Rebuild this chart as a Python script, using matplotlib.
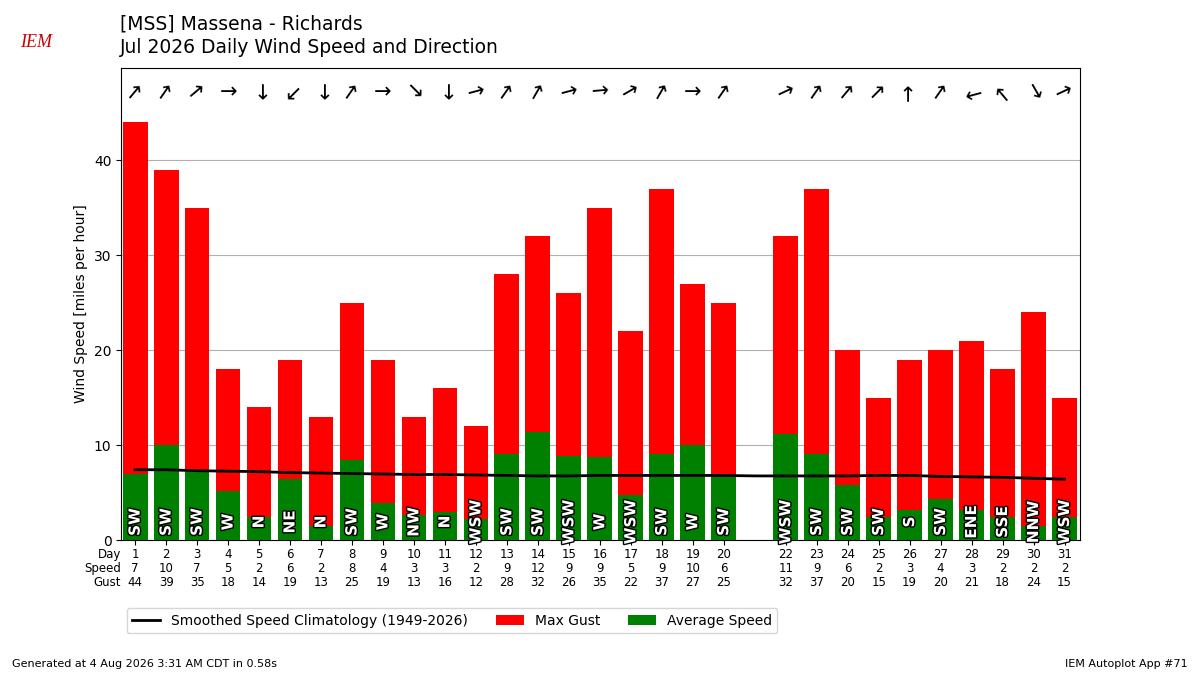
import matplotlib
matplotlib.use("Agg")
import matplotlib.pyplot as plt
import matplotlib.patheffects as pe
import numpy as np

days = [1,2,3,4,5,6,7,8,9,10,11,12,13,14,15,16,17,18,19,20,22,23,24,25,26,27,28,29,30,31]
avg_speed = [7.0,10.0,7.3,5.2,2.4,6.4,1.5,8.4,3.9,2.6,3.0,2.2,9.1,11.4,8.9,8.7,4.7,9.1,10.0,6.6,
             11.2,9.1,5.8,2.4,3.2,4.3,3.2,2.4,1.5,2.4]
speed_lbl = [7,10,7,5,2,6,2,8,4,3,3,2,9,12,9,9,5,9,10,6,11,9,6,2,3,4,3,2,2,2]
gust = [44,39,35,18,14,19,13,25,19,13,16,12,28,32,26,35,22,37,27,25,32,37,20,15,19,20,21,18,24,15]
dir_lbl = ["SW","SW","SW","W","N","NE","N","SW","W","NW","N","WSW","SW","SW","WSW","W","WSW","SW","W","SW",
           "WSW","SW","SW","SW","S","SW","ENE","SSE","NNW","WSW"]
dir_deg = [220,215,230,270,0,45,0,215,270,315,0,255,215,210,255,265,240,210,270,215,
           245,215,220,225,180,215,75,140,330,245]
clim_days = [1,2,3,4,5,6,7,8,9,10,11,12,13,14,15,16,17,18,19,20,21,22,23,24,25,26,27,28,29,30,31]
clim = [7.4,7.4,7.3,7.25,7.2,7.1,7.05,7.0,6.95,6.9,6.9,6.85,6.8,6.75,6.75,6.8,6.8,6.8,6.8,6.8,6.75,
        6.75,6.75,6.75,6.8,6.8,6.7,6.65,6.6,6.5,6.4]

fig = plt.figure(figsize=(12,6.75), dpi=100)
ax = fig.add_axes([0.101,0.2,0.799,0.699])
ax.plot(clim_days, clim, color="black", lw=2, label="Smoothed Speed Climatology (1949-2026)", zorder=4)
ax.bar(days, gust, width=0.8, color="red", label="Max Gust", zorder=2)
ax.bar(days, avg_speed, width=0.8, color="green", label="Average Speed", zorder=3)
ax.set_xlim(0.55,31.5)
ax.set_ylim(0,49.7)
ax.set_yticks([0,10,20,30,40])
ax.yaxis.grid(True, color="#b0b0b0", zorder=0)
ax.set_axisbelow(True)
ax.set_ylabel("Wind Speed [miles per hour]")
ax.set_xticks(days)
ax.set_xticklabels([])
for d, lab, deg in zip(days, dir_lbl, dir_deg):
    ax.text(d, 1.9, lab, rotation=90, ha="center", va="center", color="white", fontsize=11,
            fontweight="bold", zorder=5, clip_on=False,
            path_effects=[pe.withStroke(linewidth=2, foreground="black")])
    ang = -90 - deg
    ax.text(d, 47.2, "\u2192", rotation=ang, rotation_mode="anchor", ha="center", va="center",
            fontsize=15, zorder=5)
tr = ax.get_xaxis_transform()
for lab, yy in [("Day",-0.031),("Speed",-0.061),("Gust",-0.091)]:
    ax.text(0.0, yy, lab, transform=ax.transAxes, ha="right", va="center", fontsize=8.5)
for d, s, g in zip(days, speed_lbl, gust):
    ax.text(d, -0.031, str(d), transform=tr, ha="center", va="center", fontsize=8.5)
    ax.text(d, -0.061, str(s), transform=tr, ha="center", va="center", fontsize=8.5)
    ax.text(d, -0.091, str(g), transform=tr, ha="center", va="center", fontsize=8.5)
ax.legend(loc="upper left", bbox_to_anchor=(-0.0015,-0.13), ncol=3, fontsize=10)
fig.text(0.1,0.965,"[MSS] Massena - Richards",fontsize=13.5,va="center")
fig.text(0.1,0.929,"Jul 2026 Daily Wind Speed and Direction",fontsize=13.5,va="center")
fig.text(0.01,0.012,"Generated at 4 Aug 2026 3:31 AM CDT in 0.58s",fontsize=8)
fig.text(0.99,0.012,"IEM Autoplot App #71",fontsize=8,ha="right")
fig.text(0.017,0.93,"IEM",fontsize=13,color="#cc0000",style="italic",family="Liberation Serif")
fig.savefig("out.png", dpi=100)
